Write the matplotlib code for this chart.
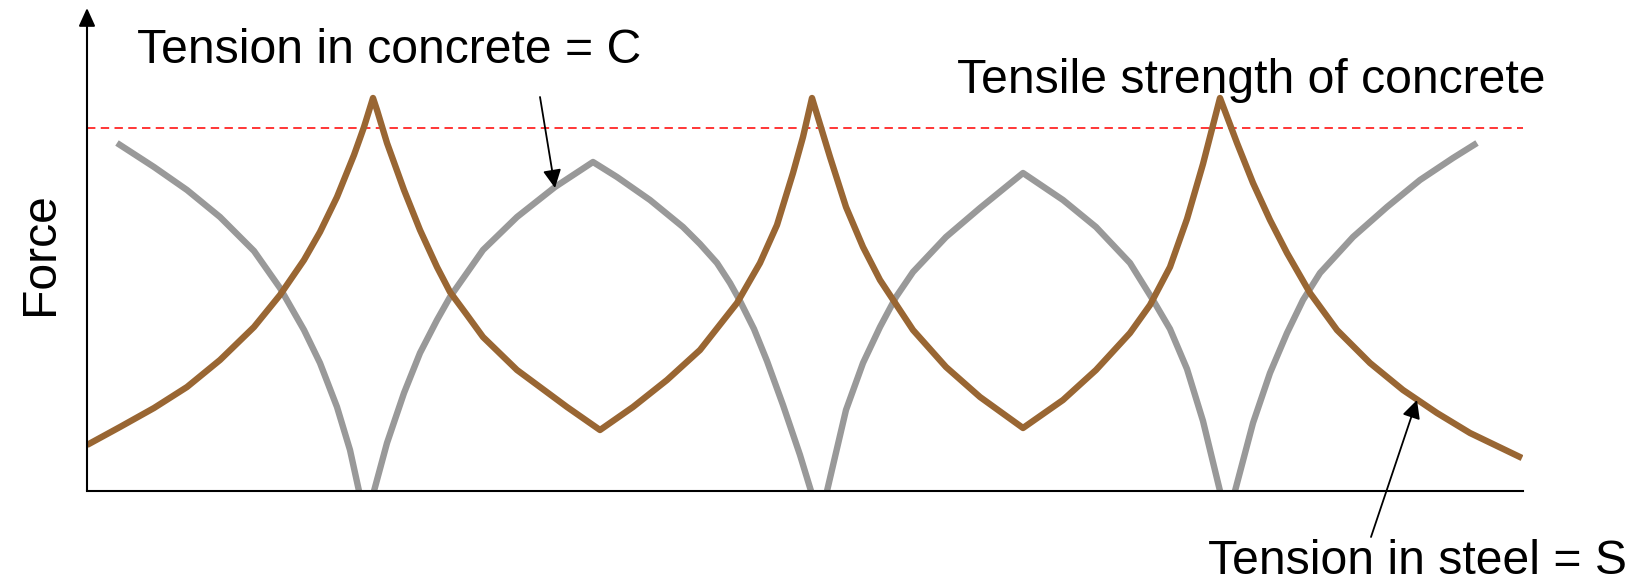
import matplotlib.pyplot as plt

# values (distance, force) in arbitrary units
steel_x = [0, 33, 67, 100, 133, 167, 193, 217, 233, 250, 267, 277, 286,
           290, 300, 317, 333, 350, 363, 380, 396, 430, 480, 513,
           546, 580, 613, 650, 673, 690, 706, 716, 725,
           743, 759, 776, 793, 826, 859, 893, 936,
           976, 1009, 1043, 1063, 1083, 1100, 1116, 1133,
           1150, 1166, 1183, 1200, 1223, 1250, 1283, 1316, 1350, 1383, 1435]
steel_y = [46, 64, 83, 104, 131, 164, 196, 231, 259, 294, 336, 364, 393,
           381, 348, 301, 261, 224, 199, 176, 154, 121, 84, 61,
           84, 111, 141, 188, 228, 266, 318, 354, 393,
           334, 284, 244, 211, 161, 124, 94, 63,
           91, 121, 158, 186, 224, 272, 327, 393,
           348, 308, 271, 238, 198, 161, 128, 101, 78, 58, 33]

# concrete tension, one piece between each pair of cracks
conc1_x = [30, 67, 100, 133, 167, 193, 217, 233, 250, 263, 272]
conc1_y = [348, 324, 301, 274, 240, 203, 161, 128, 84, 41, 0]
conc2_x = [287, 300, 317, 333, 350, 363, 396, 430, 468, 506, 530, 563, 596, 613, 630, 643, 653, 667, 680, 696, 713, 724]
conc2_y = [0, 48, 98, 138, 171, 194, 241, 274, 304, 329, 314, 291, 264, 247, 228, 208, 190, 162, 130, 86, 36, 0]
conc3_x = [740, 759, 776, 793, 809, 826, 859, 893, 936, 976, 1009, 1043, 1066, 1083, 1100, 1116, 1133]
conc3_y = [0, 81, 128, 164, 194, 219, 254, 283, 318, 291, 264, 228, 191, 162, 122, 70, 0]
conc4_x = [1148, 1166, 1183, 1200, 1216, 1233, 1266, 1300, 1333, 1366, 1390]
conc4_y = [0, 68, 118, 158, 191, 218, 254, 284, 311, 333, 348]

tensile_strength = 363

W, H = 1649, 584
fig = plt.figure(figsize=(W / 100, H / 100), dpi=100)
ax = fig.add_axes([87 / W, 93 / H, 1436 / W, 483 / H])
ax.set_xlim(0, 1436)
ax.set_ylim(0, 483)

brown = '#996633'
grey = '#999999'
lw = 4.6

for cx, cy in [(conc1_x, conc1_y), (conc2_x, conc2_y), (conc3_x, conc3_y), (conc4_x, conc4_y)]:
    ax.plot(cx, cy, color=grey, lw=lw, solid_capstyle='butt', solid_joinstyle='round', zorder=2)
ax.plot(steel_x, steel_y, color=brown, lw=lw, solid_capstyle='butt', solid_joinstyle='round', zorder=3)

ax.axhline(tensile_strength, color='#ff0000', lw=1.1, ls=(0, (5.5, 3.5)), zorder=1)

ax.set_xticks([])
ax.set_yticks([])
for s in ['top', 'right', 'left']:
    ax.spines[s].set_visible(False)
ax.spines['bottom'].set_linewidth(1.5)

# y axis drawn as an arrow
ax.annotate('', xy=(0, 483), xytext=(0, 0), annotation_clip=False,
            arrowprops=dict(arrowstyle='-|>,head_length=1.1,head_width=0.5', color='black',
                            lw=1.5, shrinkA=0, shrinkB=0))

arrow = dict(arrowstyle='-|>,head_length=1.1,head_width=0.55', color='black', lw=1.3, shrinkA=0, shrinkB=0)
ax.annotate('', xy=(468, 303), xytext=(453, 394), arrowprops=arrow, annotation_clip=False)
ax.annotate('', xy=(1330, 91), xytext=(1284, -46), arrowprops=arrow, annotation_clip=False)

font = dict(family='Liberation Sans', size=34.7)
fig.text(137 / W, 1 - 63 / H, 'Tension in concrete = C', ha='left', va='baseline', **font)
fig.text(957 / W, 1 - 93 / H, 'Tensile strength of concrete', ha='left', va='baseline', **font)
fig.text(1208 / W, 1 - 574 / H, 'Tension in steel = S', ha='left', va='baseline', **font)
fig.text(53 / W, 1 - 254 / H, 'Force', rotation=90, rotation_mode='anchor',
         ha='center', va='baseline', **font)

plt.savefig('out.png', dpi=100)
